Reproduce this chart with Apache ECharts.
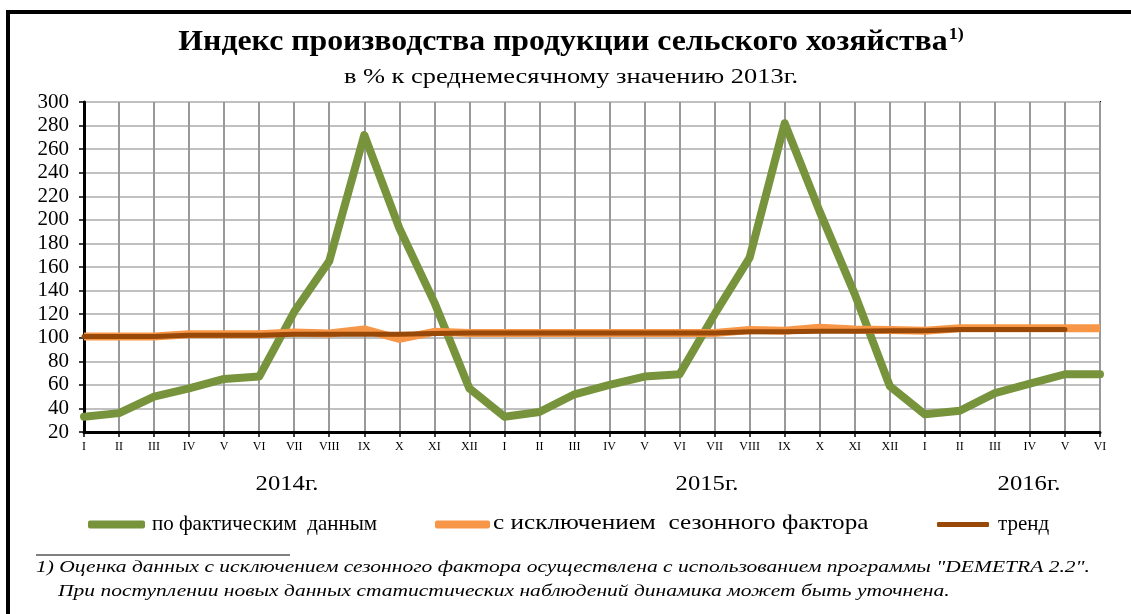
<!DOCTYPE html>
<html>
<head>
<meta charset="utf-8">
<script src="https://cdn.jsdelivr.net/npm/echarts@6/dist/echarts.min.js"></script>
<style>
html,body{margin:0;padding:0;background:#fff;}
#chart{width:1131px;height:614px;}
</style>
</head>
<body>
<div id="chart"></div>
<script>
const months = ['I','II','III','IV','V','VI','VII','VIII','IX','X','XI','XII',
                'I','II','III','IV','V','VI','VII','VIII','IX','X','XI','XII',
                'I','II','III','IV','V','VI'];
const years = ['2014г.','2015г.','2016г.'];
const actual = [33,36,50,57,65,67,122,165,272,193,130,57,
                33,37,52,60,67,69,120,168,282,207,137,59,
                35,38,53,61,69,69];
const seasonal = [101,101,101,103,103,103,104.5,103.5,107,99,105,104,
                  104,104,104,104,104,104,104,106.5,106,108.5,107,106.5,
                  106,108,108,108,108,108];
const trend = [101,101,101,102,102,102,103,103,103,103,103.5,104,
               104,104,104,104,104,104,104,105,105,105.5,105.5,106,
               106,107,107,107,107,null];
const yTicks = {min:20, max:300, interval:20};
const names = ['по фактическим  данным','с исключением  сезонного фактора','тренд'];

const categories = months.map((m,i)=> m + '#' + i);
const serif = '"Liberation Serif"';

const chart = echarts.init(document.getElementById('chart'));
chart.setOption({
  backgroundColor:'#fff',
  animation:false,
  grid:{left:84,right:31,top:102,bottom:182,show:true,borderColor:'#000',borderWidth:2,backgroundColor:'transparent'},
  legend:[
    {data:[names[0]],left:83,top:509,icon:'roundRect',itemWidth:57,itemHeight:8,itemGap:10,
     textStyle:{fontFamily:'Liberation Serif',fontSize:21,color:'#000',padding:[0,0,0,2]}},
    {data:[names[1]],left:430,top:509,icon:'roundRect',itemWidth:55,itemHeight:8,
     formatter:()=>' ',textStyle:{fontFamily:'Liberation Serif',fontSize:21,color:'#000'}},
    {data:[names[2]],left:932,top:509,icon:'roundRect',itemWidth:52,itemHeight:5,
     textStyle:{fontFamily:'Liberation Serif',fontSize:21,color:'#000',padding:[0,0,0,4]}}
  ],
  xAxis:{
    type:'category', data:categories, boundaryGap:false,
    axisLine:{lineStyle:{color:'#000',width:3}},
    axisTick:{show:true,length:5,lineStyle:{color:'#000',width:1.5}},
    axisLabel:{interval:0,fontFamily:'Liberation Serif',fontSize:12,color:'#000',margin:9,
      formatter:v=>v.split('#')[0]},
    splitLine:{show:true,lineStyle:{color:'#999',width:2}}
  },
  yAxis:{
    type:'value', min:yTicks.min, max:yTicks.max, interval:yTicks.interval,
    axisLine:{show:true,lineStyle:{color:'#000',width:3}},
    axisTick:{show:true,length:5,lineStyle:{color:'#000',width:1.5}},
    axisLabel:{fontFamily:'Liberation Serif',fontSize:21,color:'#000',margin:15},
    splitLine:{show:true,lineStyle:{color:'#c0c0c0',width:2}}
  },
  series:[
    {name:names[0],type:'line',data:actual,symbol:'none',z:3,
     lineStyle:{color:'#77933C',width:8,join:'round',cap:'round'},itemStyle:{color:'#77933C'}},
    {name:names[1],type:'line',data:seasonal,symbol:'none',z:4,
     lineStyle:{color:'#F79646',width:8,join:'round'},itemStyle:{color:'#F79646'}},
    {name:names[2],type:'line',data:trend,symbol:'none',z:5,
     lineStyle:{color:'#984807',width:5,join:'round',cap:'round'},itemStyle:{color:'#984807'}}
  ],
  graphic:[
    {type:'line',shape:{x1:6,y1:12,x2:1131,y2:12},style:{stroke:'#000',lineWidth:4}},
    {type:'line',shape:{x1:8,y1:10,x2:8,y2:614},style:{stroke:'#000',lineWidth:4}},
    {type:'text',x:571,y:42,scaleX:1.06,style:{
      text:'{a|Индекс производства продукции сельского хозяйства}{s|1)}',
      align:'center',verticalAlign:'middle',
      rich:{
        a:{font:'bold 30px '+serif,fill:'#000'},
        s:{font:'bold 17px '+serif,fill:'#000',verticalAlign:'top',padding:[0,0,14,1]}
      }}},
    {type:'text',x:571,y:77,scaleX:1.2,style:{text:'в % к среднемесячному значению 2013г.',
      font:'22px '+serif,fill:'#000',align:'center',verticalAlign:'middle'}},
    {type:'text',x:287,y:484,scaleX:1.12,style:{text:years[0],font:'22px '+serif,fill:'#000',align:'center',verticalAlign:'middle'}},
    {type:'text',x:707,y:484,scaleX:1.12,style:{text:years[1],font:'22px '+serif,fill:'#000',align:'center',verticalAlign:'middle'}},
    {type:'text',x:1029,y:484,scaleX:1.12,style:{text:years[2],font:'22px '+serif,fill:'#000',align:'center',verticalAlign:'middle'}},
    {type:'text',x:493,y:523,scaleX:1.2,style:{text:names[1],font:'21px '+serif,fill:'#000',verticalAlign:'middle'}},
    {type:'line',shape:{x1:36,y1:555,x2:290,y2:555},style:{stroke:'#000',lineWidth:1}},
    {type:'text',x:36,y:568,scaleX:1.265,style:{text:'1) Оценка данных с исключением сезонного фактора осуществлена с использованием программы "DEMETRA 2.2".',
      font:'italic 17px '+serif,fill:'#000',verticalAlign:'middle'}},
    {type:'text',x:58,y:592,scaleX:1.265,style:{text:'При поступлении новых данных статистических наблюдений динамика может быть уточнена.',
      font:'italic 17px '+serif,fill:'#000',verticalAlign:'middle'}}
  ]
});
</script>
</body>
</html>
